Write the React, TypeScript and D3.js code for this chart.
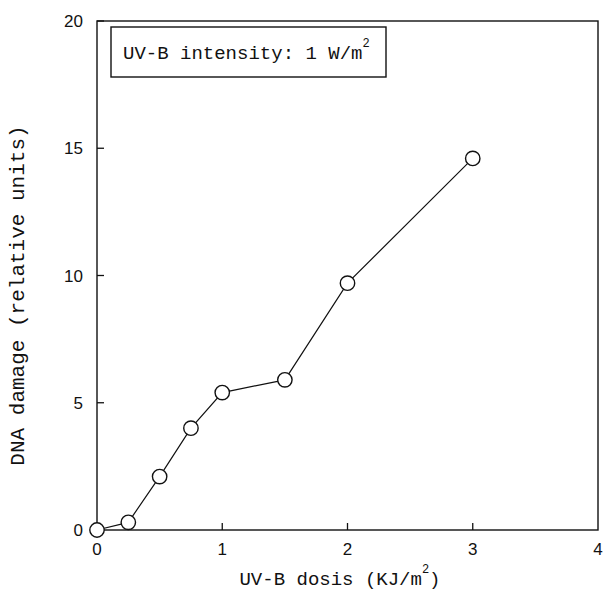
import * as d3 from 'd3';

const doses = [0, 0.25, 0.5, 0.75, 1, 1.5, 2, 3];
const damage = [0, 0.3, 2.1, 4.0, 5.4, 5.9, 9.7, 14.6];
const xTicks = [0, 1, 2, 3, 4];
const yTicks = [0, 5, 10, 15, 20];
const xTickLabels = ['0', '1', '2', '3', '4'];

const W = 604, H = 592;
const m = { left: 97, right: 6, top: 21, bottom: 62 };
const mono = '"Liberation Mono", "DejaVu Sans Mono", monospace';
const sans = '"Liberation Sans", Arial, sans-serif';

export default function App() {
  const x = d3.scaleLinear().domain([0, 4]).range([m.left, W - m.right]);
  const y = d3.scaleLinear().domain([0, 20]).range([H - m.bottom, m.top]);
  const pts = doses.map((d, i) => [d, damage[i]] as [number, number]);
  const line = d3.line<[number, number]>().x((d) => x(d[0])).y((d) => y(d[1]))(pts) || '';

  return (
    <svg width={W} height={H} style={{ position: 'absolute', left: 0, top: 0, background: '#fff' }}>
      <rect x={x(0)} y={y(20)} width={x(4) - x(0)} height={y(0) - y(20)} fill="none" stroke="#111" strokeWidth={1.4} />
      {yTicks.map((t) => (
        <g key={'y' + t}>
          <line x1={x(0)} x2={x(0) + 7} y1={y(t)} y2={y(t)} stroke="#111" strokeWidth={1.3} />
          <text x={x(0) - 14} y={y(t)} dy="0.36em" textAnchor="end" fontFamily={sans} fontSize={17} fill="#111">{t}</text>
        </g>
      ))}
      {xTicks.map((t, i) => (
        <g key={'x' + t}>
          {t > 0 && t < 4 && <line x1={x(t)} x2={x(t)} y1={y(0)} y2={y(0) - 7} stroke="#111" strokeWidth={1.3} />}
          <text x={x(t)} y={y(0) + 25} textAnchor="middle" fontFamily={sans} fontSize={17} fill="#111">{xTickLabels[i]}</text>
        </g>
      ))}
      <path d={line} fill="none" stroke="#111" strokeWidth={1.2} />
      {pts.map((p, i) => (
        <circle key={i} cx={x(p[0])} cy={y(p[1])} r={7.2} fill="#fff" stroke="#111" strokeWidth={1.4} />
      ))}
      <rect x={111} y={27} width={275} height={50} fill="#fff" stroke="#111" strokeWidth={1.4} />
      <text x={123} y={59} fontFamily={mono} fontSize={19} fill="#111">
        UV-B intensity: 1 W/m<tspan dy={-12} fontSize={12}>2</tspan>
      </text>
      <text x={340} y={585} textAnchor="middle" fontFamily={mono} fontSize={19} fill="#111">
        UV-B dosis (KJ/m<tspan dy={-12} fontSize={12}>2</tspan><tspan dy={12}>)</tspan>
      </text>
      <text transform={`translate(24,${(y(0) + y(20)) / 2 + 20}) rotate(-90)`} textAnchor="middle" fontFamily={mono} fontSize={21} fill="#111">
        DNA damage (relative units)
      </text>
    </svg>
  );
}
